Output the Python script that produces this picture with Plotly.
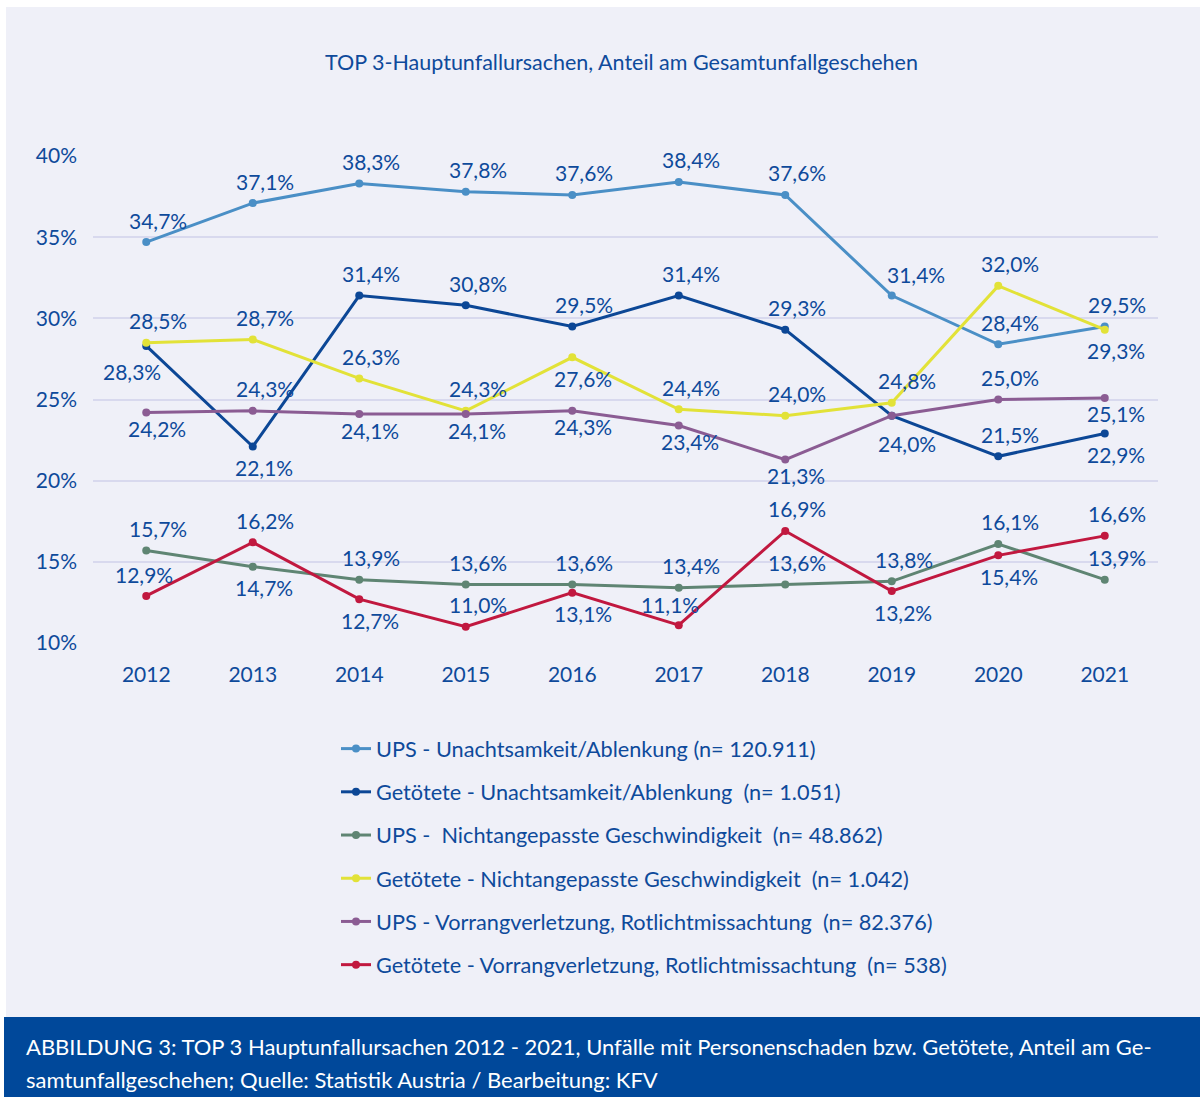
import plotly.graph_objects as go

years = ["2012", "2013", "2014", "2015", "2016", "2017", "2018", "2019", "2020", "2021"]

ups_unachtsamkeit = [34.7, 37.1, 38.3, 37.8, 37.6, 38.4, 37.6, 31.4, 28.4, 29.5]
get_unachtsamkeit = [28.3, 22.1, 31.4, 30.8, 29.5, 31.4, 29.3, 24.0, 21.5, 22.9]
ups_geschwindigkeit = [15.7, 14.7, 13.9, 13.6, 13.6, 13.4, 13.6, 13.8, 16.1, 13.9]
get_geschwindigkeit = [28.5, 28.7, 26.3, 24.3, 27.6, 24.4, 24.0, 24.8, 32.0, 29.3]
ups_vorrang = [24.2, 24.3, 24.1, 24.1, 24.3, 23.4, 21.3, 24.0, 25.0, 25.1]
get_vorrang = [12.9, 16.2, 12.7, 11.0, 13.1, 11.1, 16.9, 13.2, 15.4, 16.6]

series_names = [
    "UPS - Unachtsamkeit/Ablenkung (n= 120.911)",
    "Getötete - Unachtsamkeit/Ablenkung  (n= 1.051)",
    "UPS -  Nichtangepasste Geschwindigkeit  (n= 48.862)",
    "Getötete - Nichtangepasste Geschwindigkeit  (n= 1.042)",
    "UPS - Vorrangverletzung, Rotlichtmissachtung  (n= 82.376)",
    "Getötete - Vorrangverletzung, Rotlichtmissachtung  (n= 538)",
]
series_values = [ups_unachtsamkeit, get_unachtsamkeit, ups_geschwindigkeit,
                 get_geschwindigkeit, ups_vorrang, get_vorrang]

title_text = "TOP 3-Hauptunfallursachen, Anteil am Gesamtunfallgeschehen"
caption_lines = [
    "ABBILDUNG 3: TOP 3 Hauptunfallursachen 2012 - 2021, Unfälle mit Personenschaden bzw. Getötete, Anteil am Ge-",
    "samtunfallgeschehen; Quelle: Statistik Austria / Bearbeitung: KFV",
]

# ---- styling ----
colors = ["#4A8FC6", "#0C4796", "#5F8573", "#E2E238", "#8B5C93", "#C1183F"]
FONT = "Lato"
TXT = "#0E4A9B"

# label placement per point
label_pos = [
    ["a"] * 10,
    ["bl", "b", "a", "a", "a", "a", "a", "b2", "a", "b"],
    ["a", "b", "a", "a", "a", "a", "a", "a", "a", "a"],
    ["a", "a", "a", "a", "b", "a", "a", "a2", "a", "b"],
    ["bp", "a", "bp", "bp", "bp", "bp", "bp", "n", "a", "bp"],
    ["al0", "a", "b", "a", "b", "al", "a", "b", "b", "a"],
]
shift_map = {
    "a": (12, 22), "a2": (15, 22), "b": (11, -21), "b2": (15, -28), "bp": (11, -16),
    "bl": (-14, -26), "al": (-9, 21), "al0": (-2, 21),
}
special = {(0, 7): (24, 21)}

W, H = 1200, 1097
ML, MR, MT, MB = 93, 42, 156, 454
PW, PH = W - ML - MR, H - MT - MB


def px(x):
    return (x - ML) / PW


def py(y):
    return (H - MB - y) / PH


fig = go.Figure()
for i, (name, vals) in enumerate(zip(series_names, series_values)):
    fig.add_trace(go.Scatter(
        x=years, y=vals, name=name, mode="lines+markers",
        line=dict(color=colors[i], width=3),
        marker=dict(color=colors[i], size=8),
        legendgroup=f"g{i}", cliponaxis=False,
    ))

annotations = []
for i, vals in enumerate(series_values):
    for j, v in enumerate(vals):
        code = label_pos[i][j]
        if code == "n":
            continue
        dx, dy = special.get((i, j), shift_map[code])
        annotations.append(dict(
            x=j, y=v, xref="x", yref="y", showarrow=False,
            text=f"{v:.1f}".replace(".", ",") + "%",
            xshift=dx, yshift=dy,
            font=dict(family=FONT, size=21, color=TXT),
        ))

annotations.append(dict(
    x=px(621), y=py(62), xref="paper", yref="paper", showarrow=False,
    text=title_text, font=dict(family=FONT, size=21.5, color=TXT),
    xanchor="center", yanchor="middle",
))

for line, yy in zip(caption_lines, [1046, 1079]):
    annotations.append(dict(
        x=px(24), y=py(yy), xref="paper", yref="paper", showarrow=False,
        text=line, font=dict(family=FONT, size=22, color="white"),
        xanchor="left", yanchor="middle",
    ))

shapes = [
    dict(type="rect", xref="paper", yref="paper", x0=px(6), x1=px(1200), y0=py(1017), y1=py(7),
         fillcolor="#EFF0F8", line=dict(width=0), layer="below"),
    dict(type="rect", xref="paper", yref="paper", x0=px(4), x1=px(1200), y0=py(1097), y1=py(1017),
         fillcolor="#00489A", line=dict(width=0), layer="below"),
]

fig.update_layout(
    width=W, height=H,
    margin=dict(l=ML, r=MR, t=MT, b=MB, autoexpand=False),
    paper_bgcolor="white", plot_bgcolor="rgba(0,0,0,0)",
    font=dict(family=FONT, color=TXT),
    showlegend=True,
    legend=dict(
        x=px(336), y=py(728), xanchor="left", yanchor="top",
        bgcolor="rgba(0,0,0,0)", font=dict(family=FONT, size=21.7, color=TXT),
        tracegroupgap=12, itemwidth=30,
    ),
    xaxis=dict(type="category", range=[-0.5, 9.5], showgrid=False, zeroline=False,
               showline=False, ticks="", tickfont=dict(family=FONT, size=21, color=TXT),
               ticklabelstandoff=17),
    yaxis=dict(range=[10, 40], dtick=5, ticksuffix="%", showgrid=True,
               gridcolor="#D8D9EE", gridwidth=2, zeroline=False, showline=False,
               tickfont=dict(family=FONT, size=21, color=TXT), ticklabelstandoff=15),
    annotations=annotations, shapes=shapes,
)

fig.write_html(
    "out.html",
    config={"displayModeBar": False},
    post_script="document.body.style.margin='0';document.body.style.overflow='hidden';",
)
